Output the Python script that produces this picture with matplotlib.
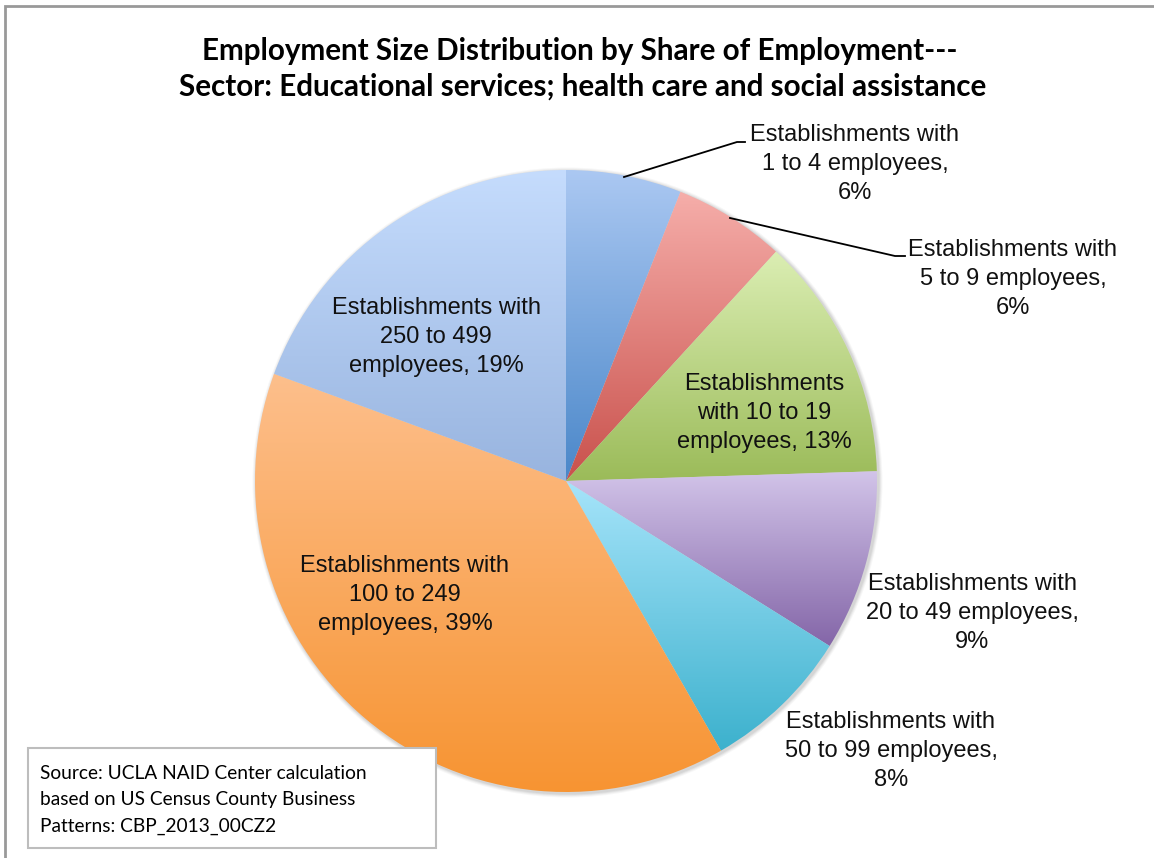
import numpy as np
import matplotlib.pyplot as plt
from matplotlib.colors import to_rgb
from matplotlib.patches import Rectangle, Circle

# Dados (participacao no emprego, %)
categorias = ["1 to 4", "5 to 9", "10 to 19", "20 to 49", "50 to 99", "100 to 249", "250 to 499"]
valores = [6.0, 5.8, 12.7, 9.4, 7.8, 38.9, 19.4]
rotulos = [
    "Establishments with\n1 to 4 employees,\n6%",
    "Establishments with\n5 to 9 employees,\n6%",
    "Establishments\nwith 10 to 19\nemployees, 13%",
    "Establishments with\n20 to 49 employees,\n9%",
    "Establishments with\n50 to 99 employees,\n8%",
    "Establishments with\n100 to 249\nemployees, 39%",
    "Establishments with\n250 to 499\nemployees, 19%",
]
# cores do gradiente (topo, base)
cores_topo = ["#abc8f2", "#f6aeaa", "#dbeeb3", "#d2c4e9", "#a6e4fa", "#fdbf8c", "#c5dcfd"]
cores_base = ["#4a87c9", "#c9514c", "#9bbb59", "#8466a8", "#3cb1cd", "#f79432", "#98b4df"]

W, H = 1154, 858
fig = plt.figure(figsize=(W / 100, H / 100), dpi=100)
ax = fig.add_axes([0, 0, 1, 1])

cx, cy, R = 566, H - 481, 311

# sombra suave
for k, a in enumerate([0.05, 0.05, 0.04, 0.03]):
    ax.add_patch(Circle((cx + 1.5, cy - 1.5), R + 1 + k, color="#000000", alpha=a, lw=0, zorder=0))

wedges, _ = ax.pie(valores, startangle=90, counterclock=False, center=(cx, cy), radius=R,
                   wedgeprops=dict(linewidth=0), frame=True)

# gradiente vertical em cada fatia
for w, c0, c1 in zip(wedges, cores_topo, cores_base):
    th = np.radians(np.linspace(w.theta1, w.theta2, 200))
    xs = np.concatenate([[cx], cx + R * np.cos(th)])
    ys = np.concatenate([[cy], cy + R * np.sin(th)])
    t = np.linspace(0, 1, 256)[:, None]
    grad = (1 - t) * np.array(to_rgb(c0)) + t * np.array(to_rgb(c1))
    img = ax.imshow(grad[:, None, :], extent=(xs.min(), xs.max(), ys.min(), ys.max()),
                    origin="upper", aspect="auto", interpolation="bilinear", zorder=1)
    img.set_clip_path(w)
    w.set_facecolor("none")

ax.set_xlim(0, W)
ax.set_ylim(0, H)
ax.set_aspect("auto")
ax.axis("off")

# rotulos
fs = 17
fam = "Liberation Sans"
pos_rotulos = [(855, 164), (1013, 279), (764, 413), (972, 613), (891, 751), (405, 595), (436, 337)]
for txt, (x, y) in zip(rotulos, pos_rotulos):
    ax.text(x, H - y, txt, ha="center", va="center", fontsize=fs, family=fam,
            linespacing=1.4, color="#111111", zorder=5)

# linhas de chamada
ax.plot([624, 737, 745], [H - 177, H - 142, H - 142], color="black", lw=1.3, zorder=4)
ax.plot([730, 895, 905], [H - 218, H - 256, H - 256], color="black", lw=1.3, zorder=4)

# titulo
ax.text(580, H - 51, "Employment Size Distribution by Share of Employment---",
        ha="center", va="center", fontsize=21.3, fontweight="bold", family="Lato")
ax.text(583, H - 87, "Sector: Educational services; health care and social assistance",
        ha="center", va="center", fontsize=21.3, fontweight="bold", family="Lato")

# caixa da fonte
ax.add_patch(Rectangle((28, H - 848), 408, 100, facecolor="white", edgecolor="#bdbdbd", lw=1.5, zorder=6))
ax.text(40, H - 800, "Source: UCLA NAID Center calculation\nbased on US Census County Business\nPatterns: CBP_2013_00CZ2",
        ha="left", va="center", fontsize=13.8, family="Lato", linespacing=1.68, zorder=7)

# borda externa
ax.add_patch(Rectangle((5, -10), W + 20, H - 6 + 10, facecolor="none", edgecolor="#999999", lw=2, zorder=8))

fig.savefig("out.png", dpi=100)
